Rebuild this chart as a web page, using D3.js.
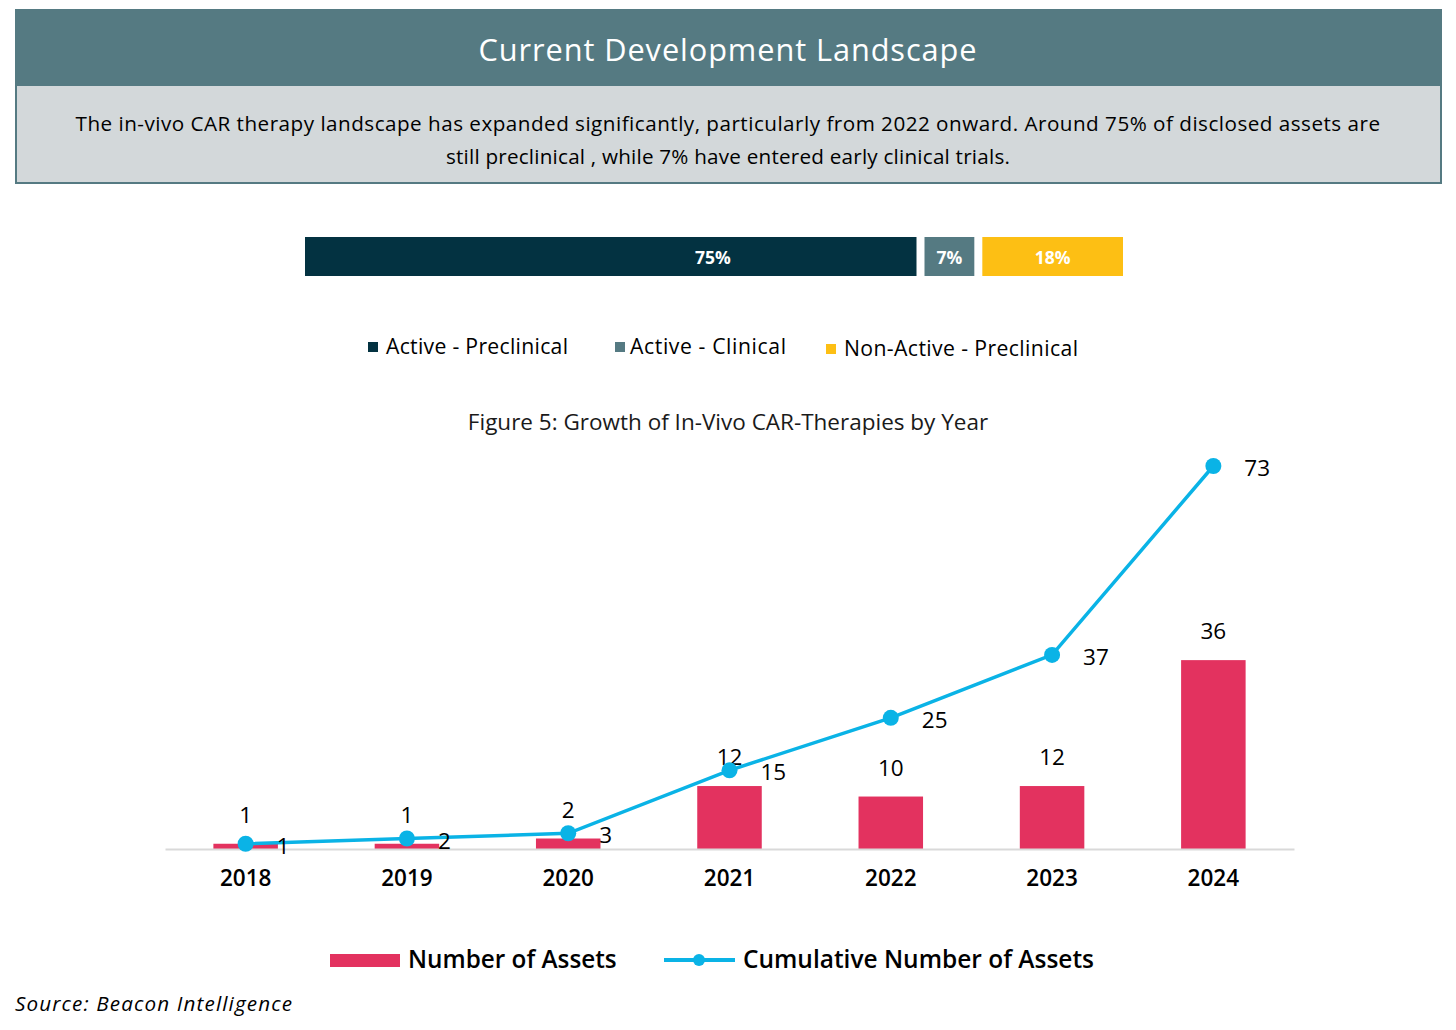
<!DOCTYPE html>
<html><head><meta charset="utf-8">
<script src="https://cdn.jsdelivr.net/npm/d3@7"></script>
<style>body{margin:0;background:#fff}svg{display:block}</style>
</head><body>
<script>
const headerTitle = "Current Development Landscape";
const summaryLines = ["The in-vivo CAR therapy landscape has expanded significantly, particularly from 2022 onward. Around 75% of disclosed  assets are",
  "still preclinical , while 7% have entered early clinical trials."];
const stageNames = ["Active - Preclinical", "Active - Clinical", "Non-Active - Preclinical"];
const stageShares = [75, 7, 18];
const stageColors = ["#033241", "#557a82", "#fdbf14"];
const years = ["2018","2019","2020","2021","2022","2023","2024"];
const assets = [1,1,2,12,10,12,36];
const cumulative = [1,2,3,15,25,37,73];
const figTitle = "Figure 5: Growth of In-Vivo CAR-Therapies by Year";
const seriesNames = ["Number of Assets","Cumulative Number of Assets"];
const sourceText = "Source: Beacon Intelligence";

const W=1456,H=1030;
const svg=d3.select("body").append("svg").attr("width",W).attr("height",H);
const hFont="'Open Sans', sans-serif";
const cFont="'Open Sans', 'Noto Sans', sans-serif";

// fit a text to a target width: grow font a little, then letter spacing for the rest
function fitWidth(sel, target, maxScale=1.06){
  const n=sel.node(); let w=n.getComputedTextLength();
  const fs=+sel.attr("font-size");
  const sc=Math.min(maxScale, target/w);
  sel.attr("font-size",(fs*sc).toFixed(2));
  w=n.getComputedTextLength();
  const len=n.textContent.length;
  if(len>1) sel.attr("letter-spacing",((target-w)/(len-1)).toFixed(3));
  return sel;
}

// header
svg.append("rect").attr("x",15).attr("y",9).attr("width",1427).attr("height",75).attr("fill","#557a82");
svg.append("text").attr("x",728).attr("y",61).attr("text-anchor","middle").attr("fill","#fff")
  .attr("font-family",hFont).attr("font-size",29).text(headerTitle).call(s=>fitWidth(s,498));
svg.append("rect").attr("x",16).attr("y",85).attr("width",1425).attr("height",98).attr("fill","#d3d8da")
  .attr("stroke","#557a82").attr("stroke-width",2);
const lineW=[1305,564];
summaryLines.forEach((l,i)=>svg.append("text").attr("x",728).attr("y",131+i*33).attr("text-anchor","middle")
  .attr("fill","#000").attr("font-family",hFont).attr("font-size",19.5).text(l).call(s=>fitWidth(s,lineW[i])));

// stacked share bar
const labelPos=[0.667,0.5,0.5];
const sx=d3.scaleLinear().domain([0,d3.sum(stageShares)]).range([305,1131]);
let acc=0;
const segs=stageShares.map((v,i)=>{const s={v,i,x0:acc,x1:acc+v};acc+=v;return s;});
const sg=svg.append("g");
sg.selectAll("rect").data(segs).join("rect")
  .attr("x",d=>sx(d.x0)).attr("y",237).attr("height",39)
  .attr("width",d=>sx(d.x1)-sx(d.x0)-8).attr("fill",d=>stageColors[d.i]);
sg.selectAll("text").data(segs).join("text")
  .attr("x",d=>sx(d.x0)+(sx(d.x1)-sx(d.x0)-8)*labelPos[d.i]).attr("y",264).attr("text-anchor","middle")
  .attr("fill","#fff").attr("font-family",hFont).attr("font-weight","bold").attr("font-size",17.5)
  .text(d=>d.v+"%");

// stage legend
const legX=[368,615,826];
const legW=[182,156,234];
stageNames.forEach((n,i)=>{
  svg.append("rect").attr("x",legX[i]).attr("y",i==2?344:342).attr("width",10).attr("height",10).attr("fill",stageColors[i]);
  svg.append("text").attr("x",legX[i]+(i==1?15:18)).attr("y",i==2?356:354).attr("font-family",hFont).attr("font-size",20)
    .attr("fill","#000").text(n).call(s=>fitWidth(s,legW[i]));
});

// figure title
svg.append("text").attr("x",728).attr("y",430).attr("text-anchor","middle").attr("font-family",cFont)
  .attr("font-size",22.5).attr("fill","#1a1a1a").text(figTitle);

// chart
const x=d3.scaleBand().domain(years).range([165,1294]).paddingInner(0.6).paddingOuter(0.3);
const y=d3.scaleLinear().domain([0,73]).range([849,466]);
const xc=d=>x(d)+x.bandwidth()/2;

const g=svg.append("g");
g.selectAll(".bar").data(years).join("rect").attr("class","bar")
  .attr("x",d=>x(d)).attr("width",x.bandwidth())
  .attr("y",(d,i)=>y(assets[i])).attr("height",(d,i)=>y(0)-y(assets[i])).attr("fill","#e3325f");

const xAxis=d3.axisBottom(x).tickSize(0).tickPadding(21);
const ax=g.append("g").attr("transform",`translate(0,${y(0)})`).call(xAxis);
ax.select(".domain").attr("stroke","#d9d9d9").attr("stroke-width",2);
ax.selectAll("text").attr("font-family",cFont).attr("font-size",22.5).attr("font-weight",600).attr("fill","#000");

g.selectAll(".bl").data(years).join("text").attr("class","bl")
  .attr("x",d=>xc(d)).attr("y",(d,i)=>y(assets[i])-21).attr("text-anchor","middle")
  .attr("font-family",cFont).attr("font-size",22.5).attr("font-weight",500).attr("fill","#000").text((d,i)=>assets[i]);

const line=d3.line().x(d=>xc(d.yr)).y(d=>y(d.v));
const pts=years.map((yr,i)=>({yr,v:cumulative[i]}));
g.append("path").datum(pts).attr("d",line).attr("fill","none").attr("stroke","#0ab3e6").attr("stroke-width",3.5);
g.selectAll(".dot").data(pts).join("circle").attr("class","dot")
  .attr("cx",d=>xc(d.yr)).attr("cy",d=>y(d.v)).attr("r",8).attr("fill","#0ab3e6");
g.selectAll(".ll").data(pts).join("text").attr("class","ll")
  .attr("x",d=>xc(d.yr)+31).attr("y",d=>y(d.v)+10)
  .attr("font-family",cFont).attr("font-size",22.5).attr("font-weight",500).attr("fill","#000").text(d=>d.v);

// series legend
svg.append("rect").attr("x",330).attr("y",954).attr("width",70).attr("height",13).attr("fill","#e3325f");
svg.append("text").attr("x",408).attr("y",968).attr("font-family",cFont).attr("font-size",24.3).attr("font-weight",600)
  .attr("fill","#000").text(seriesNames[0]);
svg.append("line").attr("x1",664).attr("x2",735).attr("y1",960).attr("y2",960).attr("stroke","#0ab3e6").attr("stroke-width",4);
svg.append("circle").attr("cx",699).attr("cy",960).attr("r",6).attr("fill","#0ab3e6");
svg.append("text").attr("x",743).attr("y",968).attr("font-family",cFont).attr("font-size",24.3).attr("font-weight",600)
  .attr("fill","#000").text(seriesNames[1]).call(s=>fitWidth(s,351));

svg.append("text").attr("x",15).attr("y",1011).attr("font-family",hFont).attr("font-style","italic").attr("font-size",19.5)
  .attr("fill","#000").text(sourceText).call(s=>fitWidth(s,277));
</script>
</body></html>
